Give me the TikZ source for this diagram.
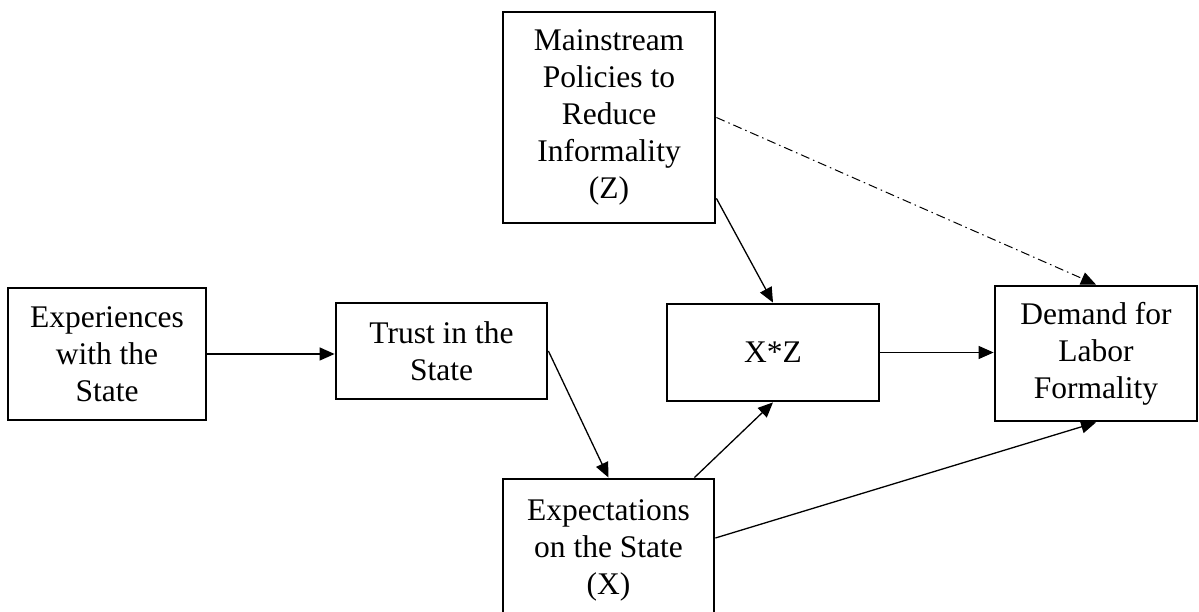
\documentclass[tikz,border=0pt]{standalone}
\usepackage{fontspec}
\setmainfont{Liberation Serif}
\usetikzlibrary{arrows.meta}
\tikzset{every picture/.style = {x=1pt, y=1pt}}
\tikzset{box/.style = {draw, line width=2.8pt, align=center, inner sep=0pt,
    font=\fontsize{31.5}{37}\selectfont}}
\tikzset{link/.style = {line width=1.3pt, -{Triangle[length=15pt, width=13pt]}}}
\tikzset{weak/.style = {link, line width=1pt, dash pattern=on 9pt off 4pt on 1.5pt off 4pt}}

\begin{document}
\begin{tikzpicture}
  \useasboundingbox (0, 0) rectangle (1199, 612);
  % boxes
  \node[box, minimum width=198, minimum height=132] (exper) at (107, 258)
    {Experiences\\with the\\State};
  \node[box, minimum width=211, minimum height=96] (trust) at (441.5, 261)
    {Trust in the\\State};
  \node[box, minimum width=212, minimum height=211] (policy) at (609, 494.5)
    {Mainstream\\Policies to\\Reduce\\Informality\\(Z)};
  \node[box, minimum width=212, minimum height=97] (inter) at (773, 259.5)
    {X*Z};
  \node[box, minimum width=202, minimum height=135] (demand) at (1096, 258.5)
    {Demand for\\Labor\\Formality};
  \node[box, minimum width=211, minimum height=142] (expect) at (608.5, 62)
    {Expectations\\on the State\\(X)};
  % arrows
  \draw[link] (exper.east) -- (exper.east -| trust.west);
  \draw[link] (trust.east) -- (expect.north);
  \draw[link] ([yshift=26]policy.south east) -- (inter.north);
  \draw[link] ([xshift=-21]expect.north east) -- (inter.south);
  \draw[link] ([yshift=12]expect.east) -- (demand.south);
  \draw[link] (inter.east) -- (inter.east -| demand.west);
  \draw[weak] (policy.east) -- (demand.north);
\end{tikzpicture}
\end{document}
